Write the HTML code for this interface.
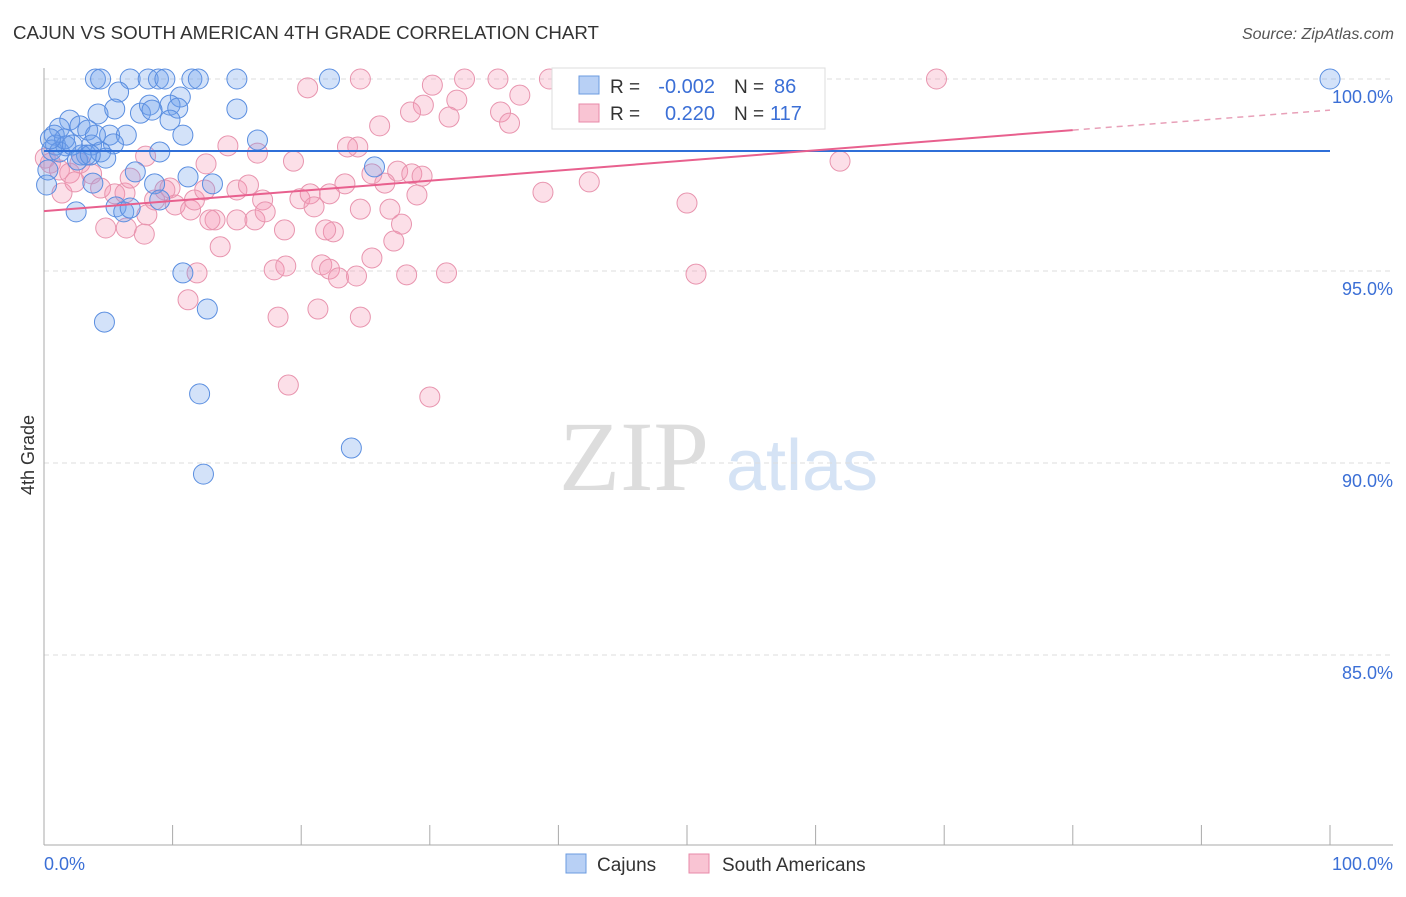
<!DOCTYPE html>
<html><head><meta charset="utf-8"><style>
body{margin:0;background:#fff;font-family:"Liberation Sans",sans-serif}
svg text{font-family:"Liberation Sans",sans-serif}
</style></head><body>
<svg id="chart" width="1406" height="892">
<text x="13" y="39" font-size="18.7" fill="#333">CAJUN VS SOUTH AMERICAN 4TH GRADE CORRELATION CHART</text>
<text x="1394" y="39" font-size="16" fill="#555" text-anchor="end" font-style="italic">Source: ZipAtlas.com</text>
<text x="634" y="490" font-size="100" fill="#ddd" style="font-family:'Liberation Serif',serif" text-anchor="middle">ZIP</text>
<text x="802" y="490" font-size="72" fill="#d5e3f5" text-anchor="middle">atlas</text>
<g id="grid"></g><g id="axes"></g><g id="pts"></g><g id="lines"></g>
<text transform="translate(34,455) rotate(-90)" font-size="18" fill="#333" text-anchor="middle">4th Grade</text>
<text x="44" y="870" font-size="18" fill="#3b6fd6">0.0%</text>
<text x="1393" y="870" font-size="18" fill="#3b6fd6" text-anchor="end">100.0%</text>
<g>
<rect x="552" y="68" width="273" height="61" fill="#fff" stroke="#ddd"/>
<rect x="579" y="76" width="20" height="18" fill="#b8d0f5" stroke="#6b9be0"/>
<rect x="579" y="104" width="20" height="18" fill="#f9c4d3" stroke="#e88aa8"/>
<text x="610" y="93" font-size="19" fill="#333">R =</text>
<text x="715" y="93" font-size="20" fill="#3b6fd6" text-anchor="end">-0.002</text>
<text x="734" y="93" font-size="19" fill="#333">N =</text>
<text x="774" y="93" font-size="20" fill="#3b6fd6">86</text>
<text x="610" y="120" font-size="19" fill="#333">R =</text>
<text x="715" y="120" font-size="20" fill="#3b6fd6" text-anchor="end">0.220</text>
<text x="734" y="120" font-size="19" fill="#333">N =</text>
<text x="770" y="120" font-size="20" fill="#3b6fd6">117</text>
</g>
<g>
<rect x="566" y="854" width="20" height="19" fill="#b8d0f5" stroke="#6b9be0"/>
<text x="597" y="871" font-size="19" fill="#333">Cajuns</text>
<rect x="689" y="854" width="20" height="19" fill="#f9c4d3" stroke="#e88aa8"/>
<text x="722" y="871" font-size="19" fill="#333">South Americans</text>
</g>
</svg>
<script>
const yTicks=[100,95,90,85];
const yTickLabels=["100.0%","95.0%","90.0%","85.0%"];
const blueX=[4.0,4.4,6.7,8.1,8.9,9.4,11.5,12.0,15.0,22.2,100,5.8,10.6,4.2,5.5,7.5,8.2,9.8,10.4,15.0,8.4,2.0,2.8,3.4,1.2,0.8,5.1,6.4,10.8,16.6,0.9,1.7,3.7,5.4,9.8,0.6,1.2,3.3,4.4,4.8,2.9,9.0,0.2,7.1,0.3,3.8,11.2,8.6,13.1,25.7,9.0,5.6,6.2,6.7,2.5,10.8,4.7,12.7,12.1,23.9,12.4,1.6,0.5,2.2,4.0,2.6,3.6];
const blueY=[100,100,100,100,100,100,100,100,100,100,100,99.66,99.53,99.09,99.22,99.11,99.32,99.32,99.24,99.22,99.19,98.93,98.78,98.67,98.72,98.54,98.54,98.54,98.54,98.41,98.28,98.26,98.28,98.31,98.93,98.15,98.10,98.02,98.10,97.94,98.02,98.10,97.24,97.58,97.63,97.29,97.45,97.27,97.27,97.71,96.85,96.67,96.54,96.64,96.54,94.95,93.67,94.01,91.80,90.39,89.71,98.44,98.44,98.28,98.54,97.89,98.02];
const pinkX=[69.4,24.6,32.7,35.3,39.3,20.5,30.2,32.1,37.0,29.5,28.5,26.1,35.5,36.2,31.5,40.5,0.1,0.5,1.2,2.0,3.7,2.8,1.4,4.4,5.5,6.3,6.7,7.9,14.3,16.6,12.6,19.4,24.4,27.5,23.6,23.4,26.5,28.6,29.4,29.0,38.8,42.4,50.0,61.9,50.7,8.0,8.6,9.8,10.2,11.4,11.7,12.5,13.3,15.0,15.9,17.0,15.0,16.4,17.2,19.9,20.7,21.0,22.2,24.6,25.5,26.9,27.8,27.2,25.5,22.5,21.9,18.7,13.7,4.8,6.4,7.8,11.9,11.2,17.9,18.8,18.2,21.3,21.6,22.2,22.9,24.3,24.6,28.2,31.3,19.0,30.0,12.9,9.4,2.4];
const pinkY=[100,100,100,100,100,99.77,99.84,99.45,99.58,99.32,99.14,98.78,99.14,98.85,99.01,99.45,97.94,97.81,97.63,97.55,97.53,97.81,97.03,97.16,97.01,97.03,97.42,97.99,98.26,98.07,97.79,97.86,98.23,97.60,98.23,97.27,97.29,97.53,97.47,96.98,97.05,97.32,96.77,97.86,94.92,96.46,96.85,97.16,96.72,96.59,96.85,97.11,96.33,97.11,97.24,96.85,96.33,96.33,96.54,96.88,97.01,96.67,97.01,96.61,97.53,96.61,96.22,95.78,95.34,96.02,96.07,96.07,95.63,96.12,96.12,95.96,94.95,94.25,95.03,95.13,93.80,94.01,95.16,95.05,94.82,94.87,93.80,94.90,94.95,92.03,91.72,96.33,97.11,97.32];
const blueFit=[0,98.125,100,98.125];
const pinkFit=[0,96.56,80,98.67,100,99.19];
const NS="http://www.w3.org/2000/svg";
const X=v=>44+v*12.86, Y=v=>79+(100-v)*38.4;
function mk(t,a,p){const e=document.createElementNS(NS,t);for(const k in a)e.setAttribute(k,a[k]);p.appendChild(e);return e;}
const grid=document.getElementById('grid'),axes=document.getElementById('axes'),pts=document.getElementById('pts'),lines=document.getElementById('lines');
yTicks.forEach((t,i)=>{
 const g=mk('line',{x1:44,x2:1393,y1:Y(t),y2:Y(t),stroke:'#ddd','stroke-dasharray':'5,4'},grid);
 
 
 const l=mk('text',{x:1393,y:Y(t)+24,'font-size':18,fill:'#3b6fd6','text-anchor':'end'},grid);
 l.textContent=yTickLabels[i];
 
 
});
const ya=mk('line',{x1:44,x2:44,y1:68,y2:845,stroke:'#aaa'},axes);


const xa=mk('line',{x1:44,x2:1393,y1:845,y2:845,stroke:'#aaa'},axes);


for(let i=0;i<=10;i++){const t=mk('line',{x1:X(i*10),x2:X(i*10),y1:825,y2:845,stroke:'#aaa'},axes);
 
 }
function dots(xs,ys,fill,stroke,name){xs.forEach((x,i)=>{const c=mk('circle',{cx:X(x),cy:Y(ys[i]),r:10,fill:fill,stroke:stroke,'stroke-width':1},pts);
 
 });}
dots(pinkX,pinkY,'rgba(244,150,180,0.3)','#e894ae','south-american-point');
dots(blueX,blueY,'rgba(110,160,235,0.3)','#5a8ee0','cajun-point');
const bl=mk('line',{x1:X(blueFit[0]),y1:Y(blueFit[1]),x2:X(blueFit[2]),y2:Y(blueFit[3]),stroke:'#2f6fd8','stroke-width':2},lines);


const pl=mk('line',{x1:X(pinkFit[0]),y1:Y(pinkFit[1]),x2:X(pinkFit[2]),y2:Y(pinkFit[3]),stroke:'#e8608e','stroke-width':2},lines);


const pd=mk('line',{x1:X(pinkFit[2]),y1:Y(pinkFit[3]),x2:X(pinkFit[4]),y2:Y(pinkFit[5]),stroke:'#e8a0b8','stroke-width':1.5,'stroke-dasharray':'6,5'},lines);


</script>
</body></html>
